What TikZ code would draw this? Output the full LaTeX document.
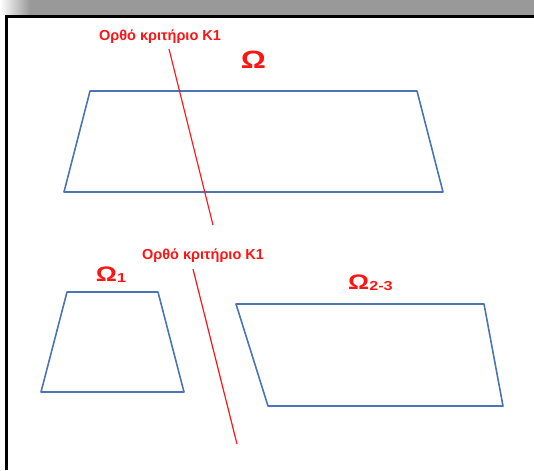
\documentclass[tikz,border=0pt]{standalone}
\usepackage{fontspec}
\setmainfont{Liberation Sans}
\usepackage{tikz}

\definecolor{edgeblue}{RGB}{74,116,180}
\definecolor{critred}{RGB}{255,20,20}
\tikzset{
  region/.style={draw=edgeblue, line width=1.6pt, line join=round},
  critline/.style={draw=critred, line width=1.2pt},
  critlabel/.style={text=critred, font=\fontsize{14.5}{16}\selectfont\bfseries, inner sep=0pt, anchor=base},
  omegalabel/.style={text=critred, font=\bfseries, inner sep=0pt, anchor=base}
}
\newcommand{\wideom}[2]{\scalebox{1.25}[1]{\fontsize{#1}{#1}\selectfont Ω\raisebox{-1pt}{\fontsize{13}{13}\selectfont #2}}}

\begin{document}
\begin{tikzpicture}[x=1pt, y=-1pt]

        \useasboundingbox (0,0) rectangle (534,470);

        % frame with shadow band
        \shade[left color=white, right color=black!40, shading angle=90] (0,0) rectangle (30,15);
        \fill[black!40] (30,0) rectangle (534,15);
        \draw[line width=3pt] (534,16.5) -- (6.5,16.5) -- (6.5,470);

        % regions
        \draw[region] (90,91) -- (417,91) -- (443,192) -- (64,192) -- cycle;
        \draw[region] (67,292) -- (158,292) -- (184,392) -- (41,392) -- cycle;
        \draw[region] (236,304) -- (484,304) -- (503,406) -- (268,406) -- cycle;

        % labels
        \node[omegalabel] (om) at (253.5,69) {\wideom{25}{}};
        \node[omegalabel] (om1) at (111,281) {\wideom{21}{1}};
        \node[omegalabel] (om23) at (370.5,289) {\wideom{21}{2-3}};

        \node[critlabel] (crit1) at (160,41) {Ορθό κριτήριο K1};
        \node[critlabel] (crit2) at (203,259) {Ορθό κριτήριο K1};

        % criterion cuts
        \coordinate (cut1a) at (169,49);
        \coordinate (cut1b) at (213,225);
        \coordinate (cut2a) at (193,269);
        \coordinate (cut2b) at (237,444);
        \draw[critline] (cut1a) -- (cut1b);
        \draw[critline] (cut2a) -- (cut2b);

    \end{tikzpicture}
\end{document}
